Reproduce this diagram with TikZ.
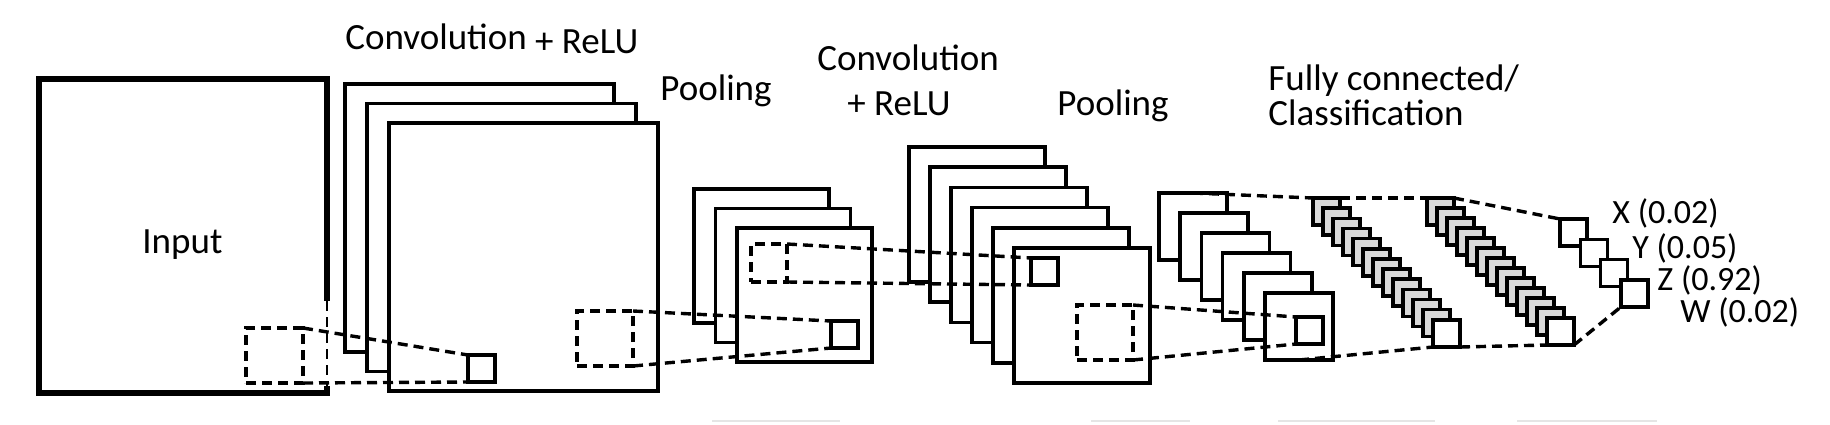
\documentclass[tikz,border=0pt]{standalone}
\usepackage{fontspec}
\setmainfont{Carlito}
\usepackage{tikz}

\begin{document}
\begin{tikzpicture}[x = 0.5pt, y = -0.5pt,
  fmap/.style = {draw, fill = white, shape = rectangle, line width = 1.8pt, inner sep = 0pt, outer sep = 0pt, anchor = north west},
  cell/.style = {fmap, minimum width = 13.5pt, minimum height = 13.5pt},
  field/.style = {draw, shape = rectangle, line width = 1.7pt, dash pattern = on 5pt off 3pt, inner sep = 0pt, outer sep = 0pt, anchor = north west},
  link/.style = {line width = 1.7pt, dash pattern = on 5pt off 3pt},
  lbl/.style = {font = \fontsize{18.5}{22}\selectfont, inner sep = 0pt, anchor = base west},
  outlbl/.style = {lbl, font = \fontsize{17}{20}\selectfont}]
\useasboundingbox (0,0) rectangle (1830,424);

% input image
\node[fmap, line width = 3.3pt, minimum width = 144pt, minimum height = 157pt] (in) at (39,79) {};
\draw[white, line width = 3.6pt] (327,301) -- (327,386);
\draw[link, line width = 1.1pt] (327,301) -- (327,386);
\node[lbl] (inlbl) at (142,253) {Input};
\node[field, minimum width = 28.5pt, minimum height = 27.5pt] (inf) at (246,328) {};

% convolution 1
\foreach \i in {0,1,2}
  \node[fmap, minimum width = 134.5pt, minimum height = 134pt] (c1m\i) at ({345 + 22*\i}, {84 + 19.5*\i}) {};
\node[cell] (c1k) at (468,355) {};
\node[field, minimum width = 28pt, minimum height = 27.5pt] (c1f) at (577,311) {};

% pooling 1
\foreach \i in {0,1,2}
  \node[fmap, minimum width = 67.5pt, minimum height = 67pt] (p1m\i) at ({694 + 21.5*\i}, {189 + 19.5*\i}) {};
\node[cell] (p1k) at (831,321) {};
\node[field, minimum width = 18pt, minimum height = 19pt] (p1f) at (751,244) {};

% convolution 2
\foreach \i in {0,...,5}
  \node[fmap, minimum width = 68pt, minimum height = 67.5pt] (c2m\i) at ({909 + 21*\i}, {147 + 20.2*\i}) {};
\node[cell] (c2k) at (1031,258) {};
\node[field, minimum width = 28pt, minimum height = 27.5pt] (c2f) at (1077,305) {};

% pooling 2
\foreach \i in {0,...,5}
  \node[fmap, minimum width = 34pt, minimum height = 33.5pt] (p2m\i) at ({1159 + 21.2*\i}, {193 + 20*\i}) {};
\node[cell] (p2k) at (1296,317) {};

% fully connected
\foreach \i in {0,...,11}
  \node[cell, fill = gray!30] (fa\i) at ({1313 + 10*\i}, {198 + 10.15*\i}) {};
\node[cell] (fa12) at (1433,320) {};
\foreach \i in {0,...,11}
  \node[cell, fill = gray!30] (fb\i) at ({1427 + 10*\i}, {198 + 10*\i}) {};
\node[cell] (fb12) at (1547,318) {};

% outputs
\foreach \i in {1,...,4}
  \node[cell] (out\i) at ({1560 + 20.3*(\i-1)}, {219 + 20.3*(\i-1)}) {};
\node[outlbl] (xlbl) at (1612,223) {X (0.02)};
\node[outlbl] (ylbl) at (1632,258) {Y (0.05)};
\node[outlbl] (zlbl) at (1657,290) {Z (0.92)};
\node[outlbl] (wlbl) at (1680,322) {W (0.02)};

% connections
\draw[link] (inf.north east) -- (c1k.north west);
\draw[link] (inf.south east) -- (c1k.south west);
\draw[link] (c1f.north east) -- (p1k.north west);
\draw[link] (c1f.south east) -- (p1k.south west);
\draw[link] (p1f.north east) -- (c2k.north west);
\draw[link] (p1f.south east) -- (c2k.south west);
\draw[link] (c2f.north east) -- (p2k.north west);
\draw[link] (c2f.south east) -- (p2k.south west);
\draw[link] (p2m0.north) -- (fa0.north west);
\draw[link] (p2m5.south) -- (fa12.south west);
\draw[link] (fa0.north east) -- (fb0.north west);
\draw[link] (fa12.south east) -- (fb12.south west);
\draw[link] (fb0.north east) -- (out1.north west);
\draw[link] (fb12.south east) -- (out4.south west);

% labels
\node[lbl] (c1lbl) at (345,49) {Convolution \raisebox{-2pt}{+ ReLU}};
\node[lbl] (p1lbl) at (660,100) {Pooling};
\node[lbl] (c2lbl) at (817,70) {Convolution};
\node[lbl] (c2lblb) at (847,115) {+ ReLU};
\node[lbl] (p2lbl) at (1057,115) {Pooling};
\node[lbl] (fclbl) at (1268,90) {Fully connected/};
\node[lbl] (fclblb) at (1268,125) {Classification};

% faint rules at the bottom edge
\draw[gray!20, line width = 1pt] (712,421) -- (840,421) (1091,421) -- (1190,421) (1278,421) -- (1435,421) (1517,421) -- (1657,421);
\end{tikzpicture}
\end{document}
